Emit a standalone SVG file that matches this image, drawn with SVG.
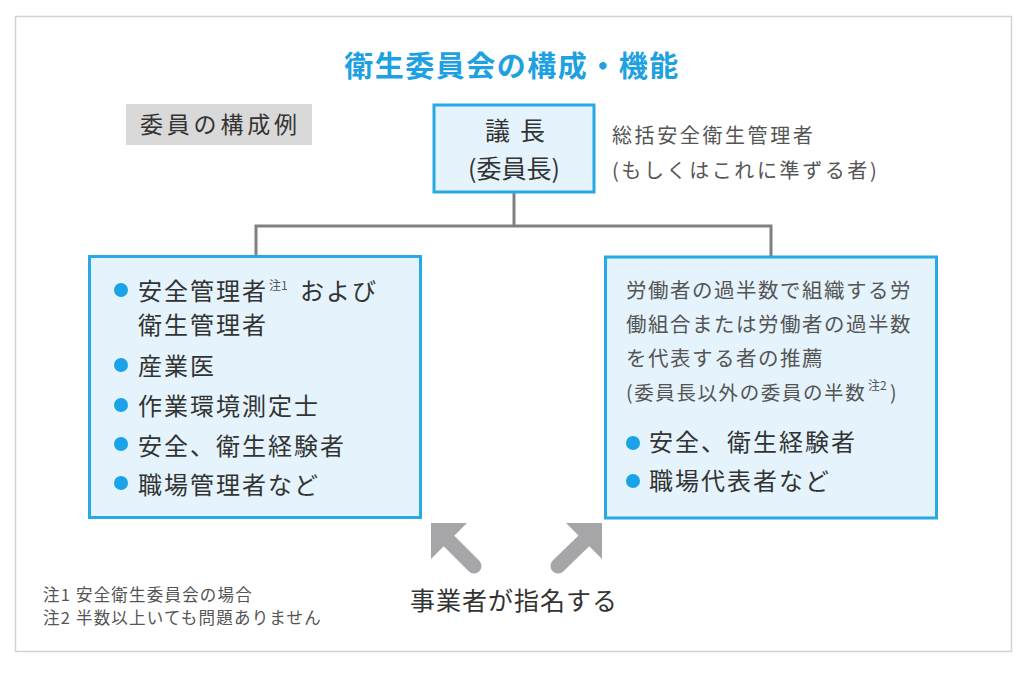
<svg xmlns="http://www.w3.org/2000/svg" width="1024" height="683" viewBox="0 0 1024 683">
  <style>
    text { font-family: "Noto Sans CJK JP", "Noto Sans", sans-serif; }
    .title { font-size: 29px; font-weight: bold; fill: #1da1e2; letter-spacing: 1.5px; }
    .label { font-size: 23px; fill: #333; letter-spacing: 3.8px; }
    .chair { font-size: 25px; fill: #333; }
    .side { font-size: 20px; fill: #555; letter-spacing: 2.6px; }
    .item { font-size: 24px; fill: #333; letter-spacing: 2px; }
    .desc { font-size: 20.5px; fill: #555; letter-spacing: 1.5px; }
    .sup { font-size: 12px; fill: #555; }
    .note { font-size: 16.5px; fill: #555; letter-spacing: 1.2px; }
    .box { fill: #e4f3fc; stroke: #27a9e6; stroke-width: 3; }
    .bullet { fill: #1aa3e8; }
    .conn { fill: none; stroke: #808080; stroke-width: 3; }
    .arrow-head { fill: #a6a6a8; }
    .arrow-shaft { stroke: #a6a6a8; stroke-width: 15; stroke-linecap: round; }
  </style>
  <rect x="0" y="0" width="1024" height="683" fill="#ffffff"/>
  <rect x="15.5" y="16.5" width="996" height="635" fill="#ffffff" stroke="#d3d3d3" stroke-width="1.5"/>

  <g id="title">
    <text class="title" x="512" y="77" text-anchor="middle">衛生委員会の構成・機能</text>
  </g>

  <g id="label">
    <rect x="126" y="104" width="186" height="41" fill="#d9d9d9"/>
    <text class="label" x="140" y="133">委員の構成例</text>
  </g>

  <g id="connectors">
    <path class="conn" d="M514,193 V226"/>
    <path class="conn" d="M256,257 V226 H771 V257"/>
    <g id="arrow-left">
      <line class="arrow-shaft" x1="440" y1="532" x2="474" y2="566"/>
      <polygon class="arrow-head" points="431,523 467,523 431,559"/>
    </g>
    <g id="arrow-right">
      <line class="arrow-shaft" x1="593" y1="532" x2="558" y2="566"/>
      <polygon class="arrow-head" points="602,523 566,523 602,559"/>
    </g>
  </g>

  <g id="chair">
    <rect class="box" x="434" y="105" width="160" height="87"/>
    <text class="chair" x="485" y="140">議<tspan dx="10">長</tspan></text>
    <text class="chair" x="514" y="178" text-anchor="middle">(委員長)</text>
  </g>

  <g id="chair-note">
    <text class="side" x="612" y="143">総括安全衛生管理者</text>
    <text class="side" x="612" y="178">(もしくはこれに準ずる者)</text>
  </g>

  <g id="left-box">
    <rect class="box" x="89.5" y="256.5" width="331" height="261"/>
    <circle class="bullet" cx="121" cy="290" r="7"/>
    <text class="item" x="138" y="300">安全管理者</text>
    <text class="sup" x="269" y="290">注1</text>
    <text class="item" x="300" y="300">および</text>
    <text class="item" x="138" y="334">衛生管理者</text>
    <circle class="bullet" cx="121" cy="365" r="7"/>
    <text class="item" x="138" y="375">産業医</text>
    <circle class="bullet" cx="121" cy="405" r="7"/>
    <text class="item" x="138" y="415">作業環境測定士</text>
    <circle class="bullet" cx="121" cy="444" r="7"/>
    <text class="item" x="138" y="455">安全、衛生経験者</text>
    <circle class="bullet" cx="121" cy="483" r="7"/>
    <text class="item" x="138" y="494">職場管理者など</text>
  </g>

  <g id="right-box">
    <rect class="box" x="605.5" y="257" width="331" height="261"/>
    <text class="desc" x="626" y="298">労働者の過半数で組織する労</text>
    <text class="desc" x="626" y="332">働組合または労働者の過半数</text>
    <text class="desc" x="626" y="366">を代表する者の推薦</text>
    <text class="desc" x="626" y="400" style="font-size:19.5px;letter-spacing:1.6px">(委員長以外の委員の半数</text>
    <text class="sup" x="868" y="390">注2</text>
    <text class="desc" x="890" y="400" style="font-size:19.5px">)</text>
    <circle class="bullet" cx="633" cy="443" r="7"/>
    <text class="item" x="649" y="451">安全、衛生経験者</text>
    <circle class="bullet" cx="633" cy="481" r="7"/>
    <text class="item" x="649" y="490">職場代表者など</text>
  </g>

  <g id="employer">
    <text x="410" y="610" style="font-size:25px;fill:#333;letter-spacing:1px">事業者が指名する</text>
  </g>

  <g id="notes">
    <text class="note" x="43" y="601" xml:space="preserve">注1 安全衛生委員会の場合</text>
    <text class="note" x="43" y="624" xml:space="preserve">注2 半数以上いても問題ありません</text>
  </g>
</svg>
